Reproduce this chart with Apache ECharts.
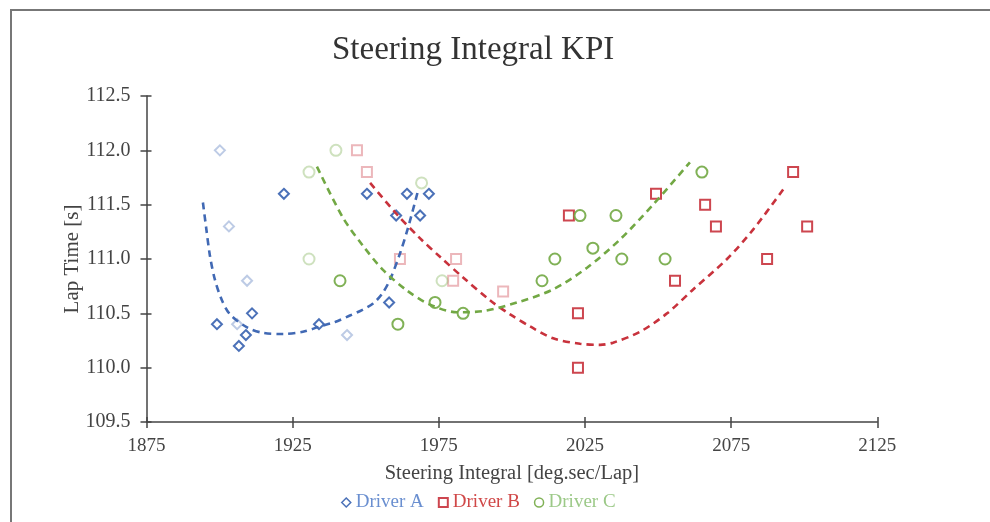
<!DOCTYPE html>
<html><head><meta charset="utf-8">
<script src="https://cdn.jsdelivr.net/npm/echarts@6/dist/echarts.min.js"></script>
<style>html,body{margin:0;padding:0;background:#fff}#c{width:990px;height:522px}</style>
</head><body><div id="c"></div>
<script>
const xTicks = [1875, 1925, 1975, 2025, 2075, 2125];
const yTicks = [109.5, 110.0, 110.5, 111.0, 111.5, 112.0, 112.5];

const driverA = [[1922.0,111.6],[1911.1,110.5],[1899.1,110.4],[1909.0,110.3],[1906.6,110.2],[1934.0,110.4],
  [1950.4,111.6],[1964.1,111.6],[1971.6,111.6],[1960.4,111.4],[1968.6,111.4],[1958.0,110.6]];
const driverAFaded = [[1900.1,112.0],[1903.2,111.3],[1909.4,110.8],[1906.0,110.4],[1943.6,110.3]];
const driverB = [[2019.5,111.4],[2022.6,110.5],[2022.6,110.0],[2049.3,111.6],[2055.8,110.8],[2066.1,111.5],
  [2069.8,111.3],[2096.2,111.8],[2101.0,111.3],[2087.3,111.0]];
const driverBFaded = [[1947.0,112.0],[1950.4,111.8],[1961.7,111.0],[1980.9,111.0],[1979.9,110.8],[1997.0,110.7]];
const driverC = [[1941.2,110.8],[1961.0,110.4],[1973.7,110.6],[1983.3,110.5],[2023.3,111.4],[2035.6,111.4],
  [2014.7,111.0],[2027.7,111.1],[2037.6,111.0],[2052.4,111.0],[2010.3,110.8],[2065.0,111.8]];
const driverCFaded = [[1930.6,111.8],[1939.8,112.0],[1930.6,111.0],[1976.1,110.8],[1969.1,111.7]];

const trendA = [[1894.3,111.52],[1895.4,111.29],[1896.7,111.03],[1898.4,110.81],[1900.8,110.62],[1903.6,110.49],
  [1909.4,110.37],[1914.9,110.32],[1921.7,110.31],[1928.5,110.33],[1934.4,110.38],[1939.5,110.42],
  [1944.6,110.48],[1948.7,110.53],[1952.5,110.59],[1955.6,110.68],[1958.3,110.81],[1961.7,111.05],
  [1964.5,111.29],[1967.9,111.63]];
const trendB = [[1951.5,111.70],[1960.7,111.41],[1968.6,111.19],[1975.4,111.02],[1983.3,110.83],[1992.5,110.62],
  [1999.4,110.49],[2006.2,110.38],[2014.1,110.27],[2023.3,110.22],[2030.2,110.21],[2034.6,110.23],
  [2043.8,110.33],[2053.1,110.50],[2062.0,110.72],[2073.6,111.00],[2082.5,111.27],[2092.8,111.64]];
const trendC = [[1933.3,111.85],[1942.2,111.38],[1949.1,111.12],[1955.9,110.90],[1964.1,110.71],[1972.0,110.58],
  [1981.2,110.51],[1990.1,110.52],[2001.8,110.60],[2014.1,110.72],[2025.7,110.92],[2037.0,111.18],
  [2048.3,111.50],[2060.9,111.89]];

const names = ['Driver A', 'Driver B', 'Driver C'];
const colA = '#4169b4', colB = '#c8323c', colC = '#72a844';
const FONT = '"Liberation Serif", "Times New Roman", serif';

const chart = echarts.init(document.getElementById('c'), null, {renderer: 'canvas'});

function scatter(name, data, color, symbol, size, opacity) {
  return {type: 'scatter', name: name, data: data, symbol: symbol, symbolSize: size,
    itemStyle: {color: '#fff', borderColor: color, borderWidth: 2, opacity: opacity}, z: 3, silent: true};
}
function trend(data, color) {
  return {type: 'line', data: data, smooth: 0.3, showSymbol: false, symbol: 'none', silent: true,
    lineStyle: {color: color, width: 2.6, type: [7, 5]}, z: 4};
}
const axisCommon = {
  type: 'value', splitLine: {show: false},
  axisLine: {show: true, onZero: false, lineStyle: {color: '#444', width: 1.5}},
};

chart.setOption({
  animation: false,
  backgroundColor: '#fff',
  graphic: [{type: 'rect', shape: {x: 11, y: 10, width: 1100, height: 700},
    style: {fill: 'none', stroke: '#777', lineWidth: 2}}],
  title: {text: 'Steering Integral KPI', left: 327, top: 29,
    textStyle: {fontFamily: FONT, fontSize: 33, fontWeight: 'normal', color: '#333'}},
  grid: {left: 146.5, right: 112.7, top: 96, bottom: 100},
  legend: {
    bottom: 5, left: 336, itemGap: 14, itemWidth: 9, itemHeight: 9,
    textStyle: {fontFamily: FONT, fontSize: 19},
    data: [
      {name: names[0], icon: 'path://M5,0 L10,5 L5,10 L0,5 Z', textStyle: {color: '#6a8fd0'}, itemStyle: {color: '#fff', borderColor: colA, borderWidth: 1.5}},
      {name: names[1], icon: 'rect', textStyle: {color: '#d04848'}, itemStyle: {color: '#fff', borderColor: colB, borderWidth: 2}},
      {name: names[2], icon: 'circle', textStyle: {color: '#9cc988'}, itemStyle: {color: '#fff', borderColor: colC, borderWidth: 1.5}}
    ]
  },
  xAxis: [
    Object.assign({}, axisCommon, {
      min: xTicks[0], max: xTicks[xTicks.length - 1], interval: xTicks[1] - xTicks[0],
      name: 'Steering Integral [deg.sec/Lap]', nameLocation: 'middle', nameGap: 41, nameMoveOverlap: false,
      nameTextStyle: {fontFamily: FONT, fontSize: 20.5, color: '#444'},
      axisTick: {show: true, inside: false, length: 6, lineStyle: {color: '#444', width: 1.5}},
      axisLabel: {fontFamily: FONT, fontSize: 19, color: '#444', margin: 15, formatter: v => String(v)}
    }),
    Object.assign({}, axisCommon, {
      min: xTicks[0], max: xTicks[xTicks.length - 1], interval: xTicks[1] - xTicks[0],
      position: 'bottom', axisLine: {show: false},
      axisTick: {show: true, inside: true, length: 5, lineStyle: {color: '#444', width: 1.5}},
      axisLabel: {show: false}
    })
  ],
  yAxis: [
    Object.assign({}, axisCommon, {
      min: yTicks[0], max: yTicks[yTicks.length - 1], interval: 0.5,
      name: 'Lap Time [s]', nameLocation: 'middle', nameGap: 64, nameRotate: 90, nameMoveOverlap: false,
      nameTextStyle: {fontFamily: FONT, fontSize: 21, color: '#444'},
      axisTick: {show: true, inside: false, length: 6, lineStyle: {color: '#444', width: 1.5}},
      axisLabel: {fontFamily: FONT, fontSize: 20, color: '#444', margin: 16, formatter: v => v.toFixed(1)}
    }),
    Object.assign({}, axisCommon, {
      min: yTicks[0], max: yTicks[yTicks.length - 1], interval: 0.5,
      position: 'left', axisLine: {show: false},
      axisTick: {show: true, inside: true, length: 5, lineStyle: {color: '#444', width: 1.5}},
      axisLabel: {show: false}
    })
  ],
  series: [
    scatter(names[0], driverA, colA, 'diamond', 10, 0.95),
    scatter(names[1], driverB, colB, 'rect', 10, 0.9),
    scatter(names[2], driverC, colC, 'circle', 11, 0.9),
    scatter(names[0], driverAFaded, colA, 'diamond', 10, 0.35),
    scatter(names[1], driverBFaded, colB, 'rect', 10, 0.35),
    scatter(names[2], driverCFaded, colC, 'circle', 11, 0.35),
    trend(trendA, colA),
    trend(trendB, colB),
    trend(trendC, colC)
  ]
});
</script></body></html>
